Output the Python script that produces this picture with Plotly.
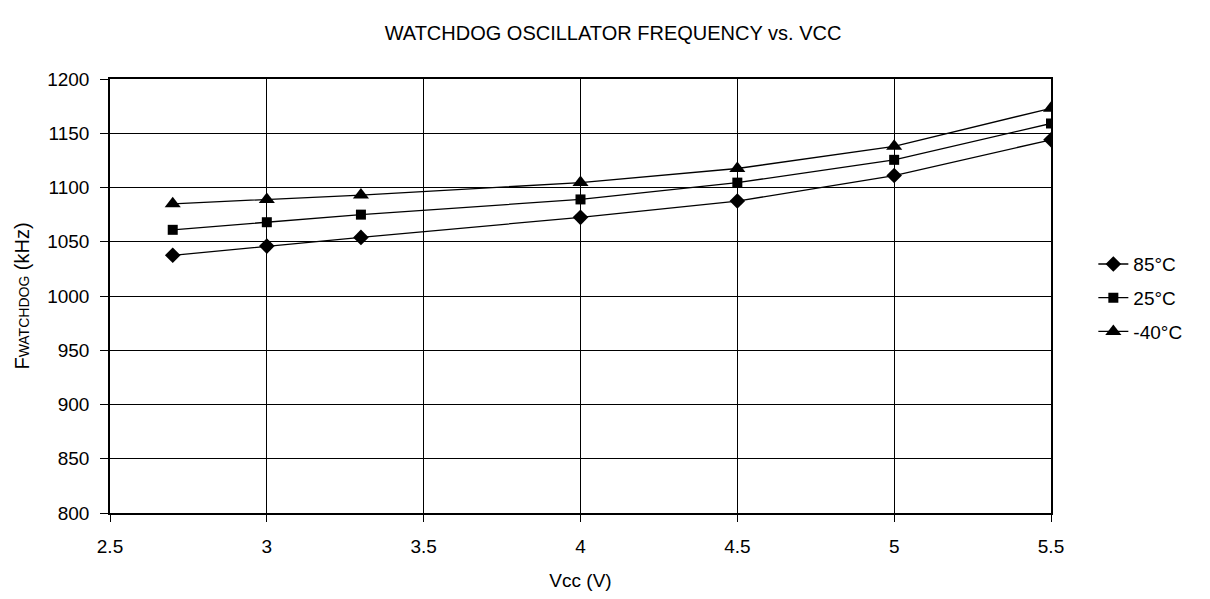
import plotly.graph_objects as go

vcc = [2.7, 3.0, 3.3, 4.0, 4.5, 5.0, 5.5]
f_85 = [1037.5, 1046, 1054, 1072.5, 1087.5, 1111, 1144]
f_25 = [1061, 1068, 1075, 1089, 1104.5, 1125.5, 1159]
f_m40 = [1085, 1089, 1093, 1104.5, 1117.5, 1138, 1173]

series = [("85°C", f_85, "diamond", 12), ("25°C", f_25, "square", 10), ("-40°C", f_m40, "triangle-up", 14)]

fig = go.Figure()
for i, (name, vals, sym, sz) in enumerate(series):
    fig.add_trace(go.Scatter(
        x=vcc, y=vals, name=name, mode="lines+markers", legendgroup=f"g{i}",
        line=dict(color="black", width=1.3),
        marker=dict(symbol=sym, size=sz, color="black"),
    ))

font = "Liberation Sans, Arial, sans-serif"
fig.update_layout(
    width=1210, height=599,
    margin=dict(l=102, r=167, t=71, b=94),
    paper_bgcolor="white", plot_bgcolor="white",
    font=dict(family=font, size=19, color="black"),
    title=dict(text="WATCHDOG OSCILLATOR FREQUENCY vs. VCC", x=0.5, xanchor="center",
               y=1 - 25 / 599, yanchor="middle", font=dict(size=20, family=font, color="black")),
    showlegend=True,
    legend=dict(x=1.045, xanchor="left", y=0.495, yanchor="middle",
                font=dict(size=19, family=font, color="black"), bgcolor="rgba(0,0,0,0)",
                tracegroupgap=6, itemsizing="trace"),
    xaxis=dict(range=[2.5, 5.5], dtick=0.5, tick0=2.5, showgrid=True, gridcolor="black",
               gridwidth=1, showline=True, linecolor="black", linewidth=1.5, mirror=True,
               ticks="outside", ticklen=7, tickcolor="black", zeroline=False,
               ticklabelstandoff=8,
               title=dict(text="Vcc (V)", standoff=18, font=dict(size=19, color="black")),
               tickfont=dict(size=19, color="black")),
    yaxis=dict(range=[800, 1200], dtick=50, showgrid=True, gridcolor="black",
               gridwidth=1, showline=True, linecolor="black", linewidth=1.5, mirror=True,
               ticks="outside", ticklen=8, tickcolor="black", zeroline=False,
               ticklabelstandoff=7,
               title=dict(text="F<span style='font-size:14px'>WATCHDOG</span> (kHz)", standoff=12,
                          font=dict(size=20, color="black")),
               tickfont=dict(size=19, color="black")),
)

fig.write_html("out.html")
